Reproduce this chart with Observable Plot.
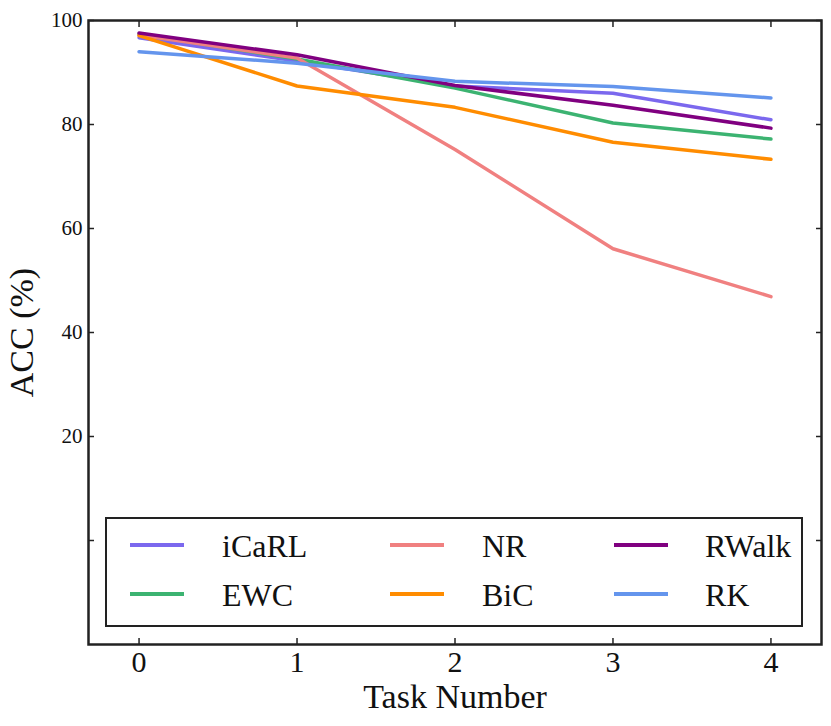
<!DOCTYPE html>
<html><head><meta charset="utf-8">
<script src="https://cdn.jsdelivr.net/npm/d3@7"></script>
<script src="https://cdn.jsdelivr.net/npm/@observablehq/plot@0.6"></script>
<style>
body{margin:0;background:#fff;}
#wrap{position:relative;width:831px;height:726px;font-family:"Liberation Serif","Times New Roman",Times,"DejaVu Serif",serif;}
#wrap svg, #wrap svg text{font-family:"Liberation Serif","Times New Roman",Times,"DejaVu Serif",serif !important;}
#legend{position:absolute;left:105px;top:517px;width:698px;height:110px;border:2px solid #222;box-sizing:border-box;background:#fff;}
.sw{position:absolute;height:4px;width:54px;}
.lab{position:absolute;font-size:32px;line-height:1;color:#111;white-space:nowrap;}
</style></head>
<body><div id="wrap"></div>
<script>
const tasks = [0, 1, 2, 3, 4];
const methods = ["iCaRL", "EWC", "NR", "BiC", "RWalk", "RK"];
const colors = ["#7B68EE", "#3CB371", "#F08080", "#FF8C00", "#800080", "#6495ED"];
const iCaRL = [96.7, 92.2, 87.4, 86.0, 80.9];
const EWC   = [97.4, 92.6, 87.0, 80.3, 77.2];
const NR    = [97.2, 92.8, 75.2, 56.1, 46.9];
const BiC   = [97.1, 87.4, 83.3, 76.6, 73.3];
const RWalk = [97.6, 93.4, 87.5, 83.7, 79.3];
const RK    = [94.0, 91.8, 88.3, 87.3, 85.1];
const xTicks = [0, 1, 2, 3, 4];
const xTickLabels = ["0", "1", "2", "3", "4"];
const yTicks = [0, 20, 40, 60, 80, 100];
const yTickLabels = ["", "20", "40", "60", "80", "100"];
const legendOrder = ["iCaRL", "NR", "RWalk", "EWC", "BiC", "RK"];

const seriesValues = {iCaRL, EWC, NR, BiC, RWalk, RK};
const rows = methods.flatMap(m => tasks.map((t, i) => ({task: t, acc: seriesValues[m][i], method: m})));

const lineMarks = methods.map((m, k) =>
  Plot.line(rows.filter(r => r.method === m), {x: "task", y: "acc", stroke: colors[k], strokeWidth: 3.5, strokeLinejoin: "round"})
);

const ink = "#222";
const serif = "'Liberation Serif', 'Times New Roman', Times, serif";
const plot = Plot.plot({
  width: 831, height: 726,
  marginLeft: 88, marginRight: 10, marginTop: 20, marginBottom: 82,
  style: {fontFamily: serif, background: "#fff", color: "#111"},
  x: {domain: [-0.32, 4.32]},
  y: {domain: [-20, 100]},
  marks: [
    ...lineMarks,
    Plot.axisX(xTicks, {anchor: "bottom", tickSize: -6, tickFormat: () => "", label: null, stroke: ink, strokeWidth: 1.5}),
    Plot.axisX(xTicks, {anchor: "top", tickSize: -6, tickFormat: () => "", label: null, stroke: ink, strokeWidth: 1.5}),
    Plot.axisY(yTicks, {anchor: "left", tickSize: -6, tickFormat: () => "", label: null, stroke: ink, strokeWidth: 1.5}),
    Plot.axisY(yTicks, {anchor: "right", tickSize: -6, tickFormat: () => "", label: null, stroke: ink, strokeWidth: 1.5}),
    Plot.axisX(xTicks, {anchor: "bottom", tickSize: 0, tickPadding: 6, fontSize: 30, label: null, fill: "#111",
      tickFormat: d => xTickLabels[xTicks.indexOf(d)]}),
    Plot.axisY(yTicks, {anchor: "left", tickSize: 0, tickPadding: 6, fontSize: 21, label: null, fill: "#111",
      tickFormat: d => yTickLabels[yTicks.indexOf(d)]}),
    Plot.frame({stroke: ink, strokeWidth: 2.5}),
    Plot.text(["Task Number"], {frameAnchor: "bottom", dy: 63, fontSize: 34, fill: "#111"}),
    Plot.text(["ACC (%)"], {frameAnchor: "left", textAnchor: "middle", dx: -66, rotate: -90, fontSize: 34, fill: "#111"})
  ]
});

const wrap = document.getElementById("wrap");
wrap.appendChild(plot);

const legend = document.createElement("div");
legend.id = "legend";
const swLeft = [23, 283, 507], txLeft = [115, 375, 598];
const swTop = [24, 73], txTop = [11, 60];
legendOrder.forEach((m, i) => {
  const col = i % 3, row = Math.floor(i / 3);
  const sw = document.createElement("div");
  sw.className = "sw";
  sw.style.left = swLeft[col] + "px";
  sw.style.top = swTop[row] + "px";
  sw.style.background = colors[methods.indexOf(m)];
  legend.appendChild(sw);
  const tx = document.createElement("div");
  tx.className = "lab";
  tx.style.left = txLeft[col] + "px";
  tx.style.top = txTop[row] + "px";
  tx.textContent = m;
  legend.appendChild(tx);
});
wrap.appendChild(legend);
</script>
</body></html>
